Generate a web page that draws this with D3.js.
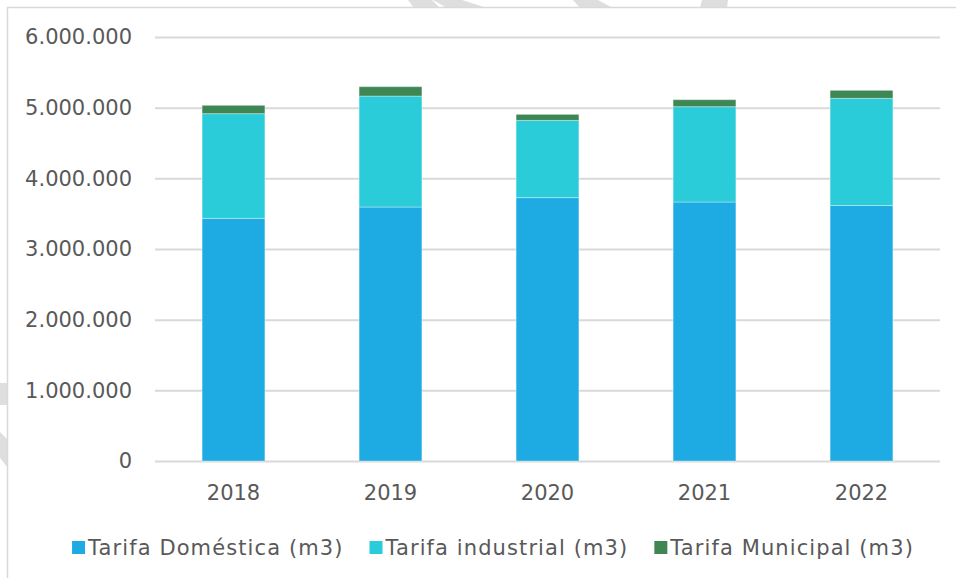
<!DOCTYPE html>
<html>
<head>
<meta charset="utf-8">
<script src="https://cdn.jsdelivr.net/npm/d3@7"></script>
<style>
  body { margin: 0; background: #fff; }
  text { font-family: "DejaVu Sans", sans-serif; fill: #595959; }
</style>
</head>
<body>
<svg id="chart" width="956" height="578"></svg>
<script>
var years = ["2018", "2019", "2020", "2021", "2022"];
var domestica = [3434000, 3594000, 3727000, 3665000, 3615000];
var industrial = [1481000, 1570000, 1093000, 1349000, 1517000];
var municipal = [118000, 133000, 85000, 99000, 113000];
var seriesNames = ["Tarifa Doméstica (m3)", "Tarifa industrial (m3)", "Tarifa Municipal (m3)"];
var seriesColors = ["#1eabe3", "#29ccd8", "#3e8754"];
var yTicks = [0, 1000000, 2000000, 3000000, 4000000, 5000000, 6000000];

var svg = d3.select("#chart");

// faint watermark pieces peeking out around the chart frame
var marks = [
    [[408, 0], [432, 0], [440, 8], [414, 8]],
    [[433, 0], [462, 0], [487, 8], [447, 8]],
    [[573, 0], [598, 0], [613, 8], [580, 8]],
    [[702, 0], [728, 0], [727, 8], [700, 8]],
    [[0, 383], [8, 383], [8, 405], [0, 405]],
    [[0, 432], [8, 440], [8, 468], [0, 458]]
];
svg.selectAll(".wm")
    .data(marks)
    .enter()
    .append("polygon")
    .attr("class", "wm")
    .attr("points", function(d) { return d.join(" "); })
    .attr("fill", "#dedede");

svg.append("rect")
    .attr("x", 7.5).attr("y", 7.5)
    .attr("width", 960).attr("height", 600)
    .attr("fill", "#fff")
    .attr("stroke", "#d9d9d9")
    .attr("stroke-width", 1.5);

var margin = {top: 37, left: 155, right: 16, bottom: 117},
    width = 956 - margin.left - margin.right,
    height = 578 - margin.top - margin.bottom;

var g = svg.append("g")
    .attr("transform", "translate(" + margin.left + "," + margin.top + ")");

var x = d3.scaleBand()
    .domain(years)
    .range([0, width])
    .paddingInner(0.6)
    .paddingOuter(0.3);

var y = d3.scaleLinear()
    .domain([0, 6000000])
    .range([height, 0]);

var fmt = function(v) { return d3.format(",")(v).replace(/,/g, "."); };

// gridlines + y labels
var yAxis = g.append("g")
    .call(d3.axisLeft(y).tickValues(yTicks).tickSize(-width).tickFormat(fmt));
yAxis.select(".domain").remove();
yAxis.selectAll(".tick line")
    .attr("stroke", "#d9d9d9")
    .attr("stroke-width", 2);
yAxis.selectAll(".tick text")
    .attr("x", -23)
    .style("font-size", "21px");

var rows = years.map(function(yr, i) {
    return {year: yr, d: domestica[i], ind: industrial[i], mun: municipal[i]};
});
var stack = d3.stack().keys(["d", "ind", "mun"]);
var layers = stack(rows);

g.selectAll(".layer")
    .data(layers)
    .enter()
    .append("g")
    .attr("class", "layer")
    .attr("fill", function(d, i) { return seriesColors[i]; })
    .selectAll("rect")
    .data(function(d) { return d; })
    .enter()
    .append("rect")
    .attr("x", function(d) { return x(d.data.year); })
    .attr("y", function(d) { return y(d[1]); })
    .attr("width", x.bandwidth())
    .attr("height", function(d) { return y(d[0]) - y(d[1]); })
    .attr("stroke", "rgba(255,255,255,0.35)")
    .attr("stroke-width", 1);

// x labels
var xAxis = g.append("g")
    .attr("transform", "translate(0," + height + ")")
    .call(d3.axisBottom(x).tickSize(0).tickPadding(24));
xAxis.select(".domain").remove();
xAxis.selectAll("text").style("font-size", "21px");

// legend
var legend = svg.append("g").attr("class", "legend");
var items = legend.selectAll("g")
    .data(seriesNames)
    .enter()
    .append("g");
items.append("rect")
    .attr("width", 13).attr("height", 13)
    .attr("y", -7)
    .attr("fill", function(d, i) { return seriesColors[i]; });
items.append("text")
    .attr("x", 16)
    .attr("dy", "0.35em")
    .style("font-size", "21px")
    .style("letter-spacing", "1.1px")
    .text(function(d) { return d; });

var offs = 0, widths = [];
items.each(function() {
    var w = 16 + d3.select(this).select("text").node().getComputedTextLength();
    widths.push(w);
});
var gap = 26;
var total = d3.sum(widths) + gap * (widths.length - 1);
var start = 493 - total / 2;
items.attr("transform", function(d, i) {
    var t = "translate(" + (start + offs) + ",548)";
    offs += widths[i] + gap;
    return t;
});
</script>
</body>
</html>
